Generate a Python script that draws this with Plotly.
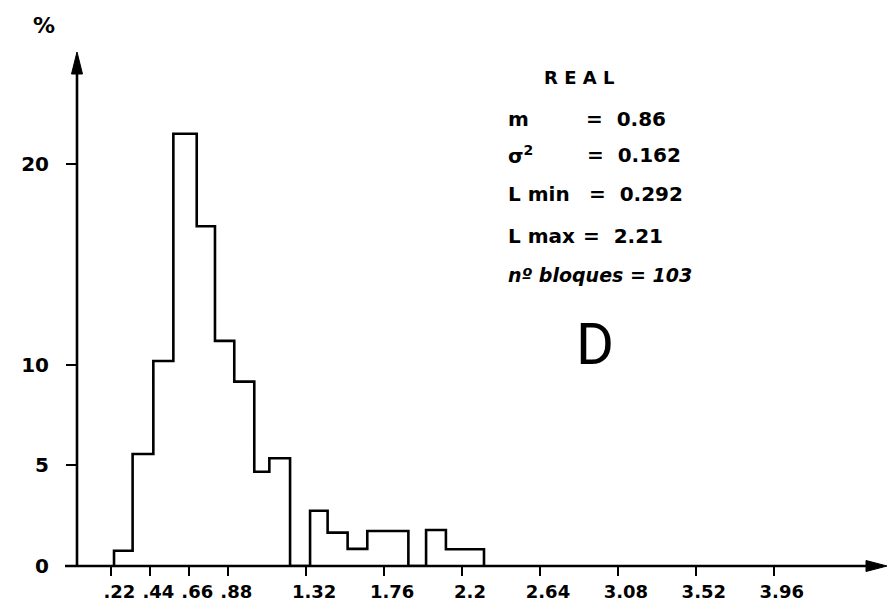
import plotly.graph_objects as go

# ---- data ----
bin_edges = [0.235, 0.34, 0.457, 0.57, 0.702, 0.805, 0.914, 1.027, 1.112, 1.229,
             1.342, 1.441, 1.554, 1.665, 1.78, 1.897, 1.997, 2.109, 2.22, 2.324]
percent = [0.76, 5.57, 10.2, 21.5, 16.9, 11.2, 9.17, 4.69, 5.36, 0.0,
           2.75, 1.66, 0.85, 1.74, 1.74, 0.0, 1.79, 0.83, 0.83]
x_ticks = [0.22, 0.44, 0.66, 0.88, 1.32, 1.76, 2.2, 2.64, 3.08, 3.52, 3.96]
x_tick_labels = [".22", ".44", ".66", ".88", "1.32", "1.76", "2.2", "2.64", "3.08", "3.52", "3.96"]
y_ticks = [0, 5, 10, 20]
y_tick_labels = ["0", "5", "10", "20"]
stats_labels = ["m", "σ<sup>2</sup>", "L min", "L max"]
stats_values = ["=  0.86", "=  0.162", "=  0.292", "=  2.21"]

# ---- step outline of histogram ----
xs, ys = [bin_edges[0]], [0]
for i, h in enumerate(percent):
    xs += [bin_edges[i], bin_edges[i + 1]]
    ys += [h, h]
xs.append(bin_edges[-1])
ys.append(0)

W, H = 888, 612
L, R, T, B = 77, 8, 52, 46
PW, PH = W - L - R, H - T - B

def px(xp):
    return (xp - L) / PW

def py(yp):
    return (H - B - yp) / PH

FONT = "DejaVu Sans"

fig = go.Figure()
fig.add_trace(go.Scatter(x=xs, y=ys, mode="lines",
                         line=dict(color="black", width=2.6),
                         cliponaxis=False, hoverinfo="skip", showlegend=False))

fig.update_layout(
    width=W, height=H,
    margin=dict(l=L, r=R, t=T, b=B, pad=0),
    paper_bgcolor="white", plot_bgcolor="white",
    font=dict(family=FONT, color="black", size=18, weight="bold"),
    xaxis=dict(range=[0.026, 4.56], showgrid=False, zeroline=False, showline=False,
               tickmode="array", tickvals=x_ticks, ticktext=x_tick_labels,
               ticks="outside", ticklen=9, tickwidth=2, tickcolor="black",
               ticklabelstandoff=0, ticklabelshift=8,
               tickfont=dict(family=FONT, size=18, weight="bold")),
    yaxis=dict(range=[0, 25.57], showgrid=False, zeroline=False, showline=False,
               tickmode="array", tickvals=y_ticks, ticktext=y_tick_labels,
               ticks="outside", ticklen=10, tickwidth=2, tickcolor="black",
               ticklabelstandoff=13,
               tickfont=dict(family=FONT, size=20, weight="bold")),
)

# axis lines with arrowheads (paper coordinates)
shapes = [
    dict(type="line", xref="paper", yref="paper", x0=px(65), y0=py(566), x1=px(876), y1=py(566),
         line=dict(color="black", width=2.6)),
    dict(type="path", xref="paper", yref="paper",
         path=f"M {px(887)},{py(566)} L {px(866)},{py(560.5)} L {px(866)},{py(571.5)} Z",
         fillcolor="black", line=dict(color="black", width=1)),
    dict(type="line", xref="paper", yref="paper", x0=px(77), y0=py(566), x1=px(77), y1=py(64),
         line=dict(color="black", width=2.6)),
    dict(type="path", xref="paper", yref="paper",
         path=f"M {px(77)},{py(52)} L {px(71.5)},{py(74)} L {px(82.5)},{py(74)} Z",
         fillcolor="black", line=dict(color="black", width=1)),
]

ann = []
ann.append(dict(xref="paper", yref="paper", x=px(44), y=py(26), xanchor="center",
                yanchor="middle", text="%", showarrow=False,
                font=dict(size=22, weight="bold")))
ann.append(dict(xref="paper", yref="paper", x=px(542), y=py(77), xanchor="left",
                yanchor="middle", text="R E A L", showarrow=False,
                font=dict(size=18, weight="bold")))
rows_y = [119, 155, 194, 236]
eq_x = [584, 585, 587, 581]
for lab, val, yy, ex in zip(stats_labels, stats_values, rows_y, eq_x):
    ann.append(dict(xref="paper", yref="paper", x=px(506), y=py(yy), xanchor="left",
                    yanchor="middle", text=lab, showarrow=False,
                    font=dict(size=20, weight="bold")))
    ann.append(dict(xref="paper", yref="paper", x=px(ex), y=py(yy), xanchor="left",
                    yanchor="middle", text=val, showarrow=False,
                    font=dict(size=20, weight="bold")))
ann.append(dict(xref="paper", yref="paper", x=px(506), y=py(275), xanchor="left",
                yanchor="middle", text="<i>nº bloques = 103</i>", showarrow=False,
                font=dict(family="DejaVu Sans", size=19, weight="bold")))
ann.append(dict(xref="paper", yref="paper", x=px(595), y=py(344), xanchor="center",
                yanchor="middle", text="D", showarrow=False,
                font=dict(family="Roboto", size=58, weight="normal")))
fig.update_layout(annotations=ann, shapes=shapes)

fig.write_html("out.html")
